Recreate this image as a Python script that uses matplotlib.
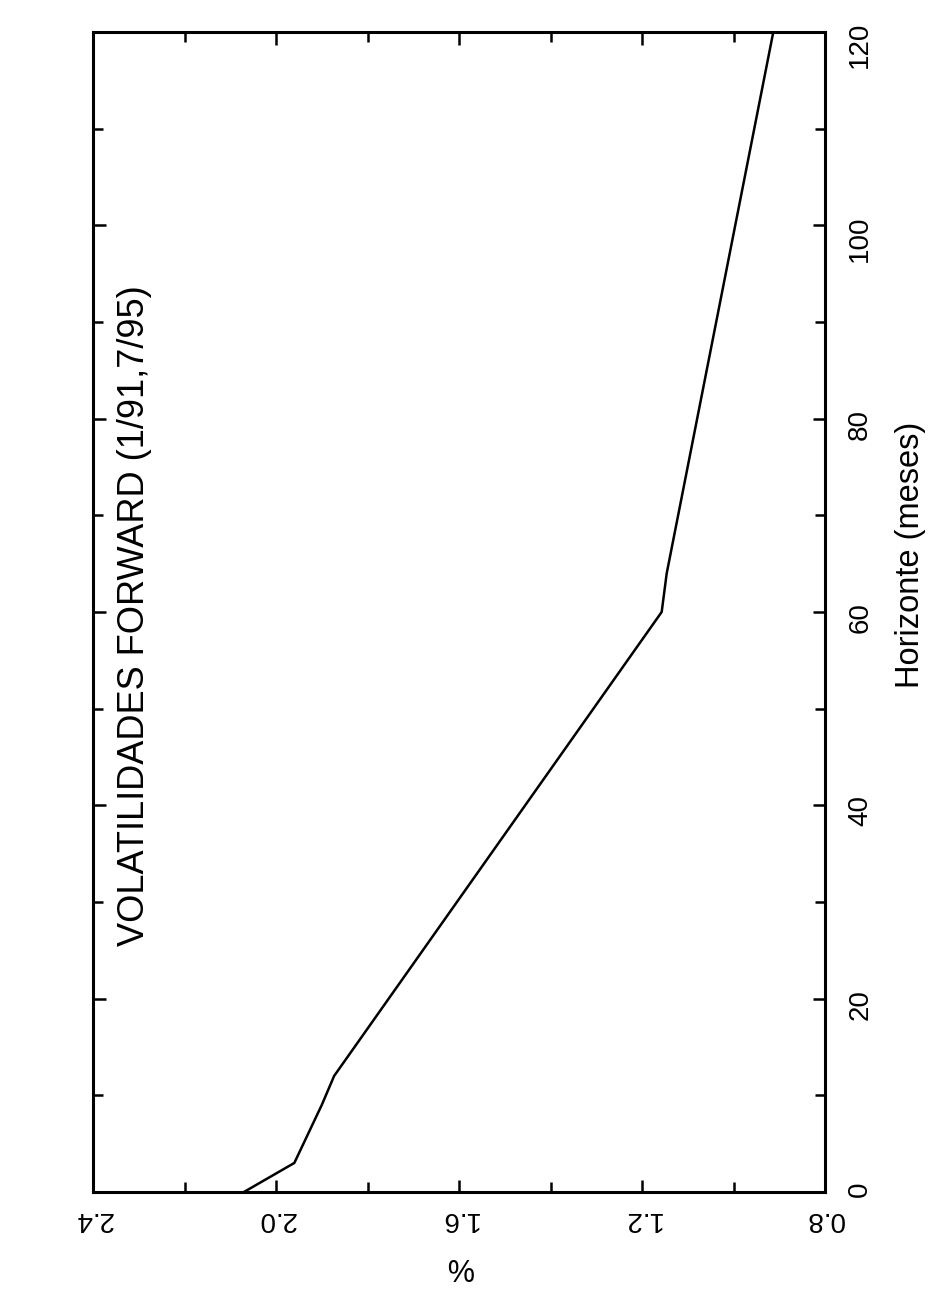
"""Volatilidades forward: horizonte vs %, rotated page layout."""
import numpy as np
import matplotlib
matplotlib.use("Agg")
import matplotlib.pyplot as plt
from matplotlib.ticker import MultipleLocator

plt.rcParams["font.family"] = ["Liberation Sans", "DejaVu Sans"]

# horizon (months) and forward volatility (%)
horizonte = [0, 3, 6, 9, 12, 60, 64, 120]
volatilidad = [2.07, 1.96, 1.93, 1.90, 1.873, 1.157, 1.146, 0.913]

x_ticks = [2.4, 2.0, 1.6, 1.2, 0.8]
x_labels = ["2.4", "2.0", "1.6", "1.2", "0.8"]
y_ticks = [0, 20, 40, 60, 80, 100, 120]

fig = plt.figure(figsize=(9.34, 12.90), dpi=100)
ax = fig.add_axes([0.0996, 0.076, 0.7837, 0.8992])

ax.plot(volatilidad, horizonte, color="black", lw=1.8)

ax.set_xlim(2.4, 0.8)
ax.set_ylim(0, 120)

ax.set_xticks(x_ticks)
ax.set_xticklabels(x_labels, rotation=180, fontsize=20)
ax.xaxis.set_minor_locator(MultipleLocator(0.2))
ax.set_yticks(y_ticks)
ax.set_yticklabels([str(t) for t in y_ticks], rotation=90, fontsize=20)
ax.yaxis.set_minor_locator(MultipleLocator(10))

ax.tick_params(which="both", direction="in", top=True, bottom=True,
               left=True, right=True, labelleft=False, labelright=True,
               width=1.8, color="black")
ax.tick_params(which="major", length=9)
ax.tick_params(which="minor", length=7)
ax.tick_params(axis="x", pad=10)
ax.tick_params(axis="y", pad=16)

for sp in ax.spines.values():
    sp.set_linewidth(2.2)

ax.set_xlabel("%", rotation=180, fontsize=22, labelpad=14)

ax.text(0.057, 0.497, "VOLATILIDADES FORWARD (1/91,7/95)", transform=ax.transAxes,
        rotation=90, ha="center", va="center", fontsize=26)

fig.text(910 / 934, 1 - 555 / 1290, "Horizonte (meses)", rotation=90,
         ha="center", va="center", fontsize=23.5)

plt.savefig("out.png", dpi=100)
plt.close()
